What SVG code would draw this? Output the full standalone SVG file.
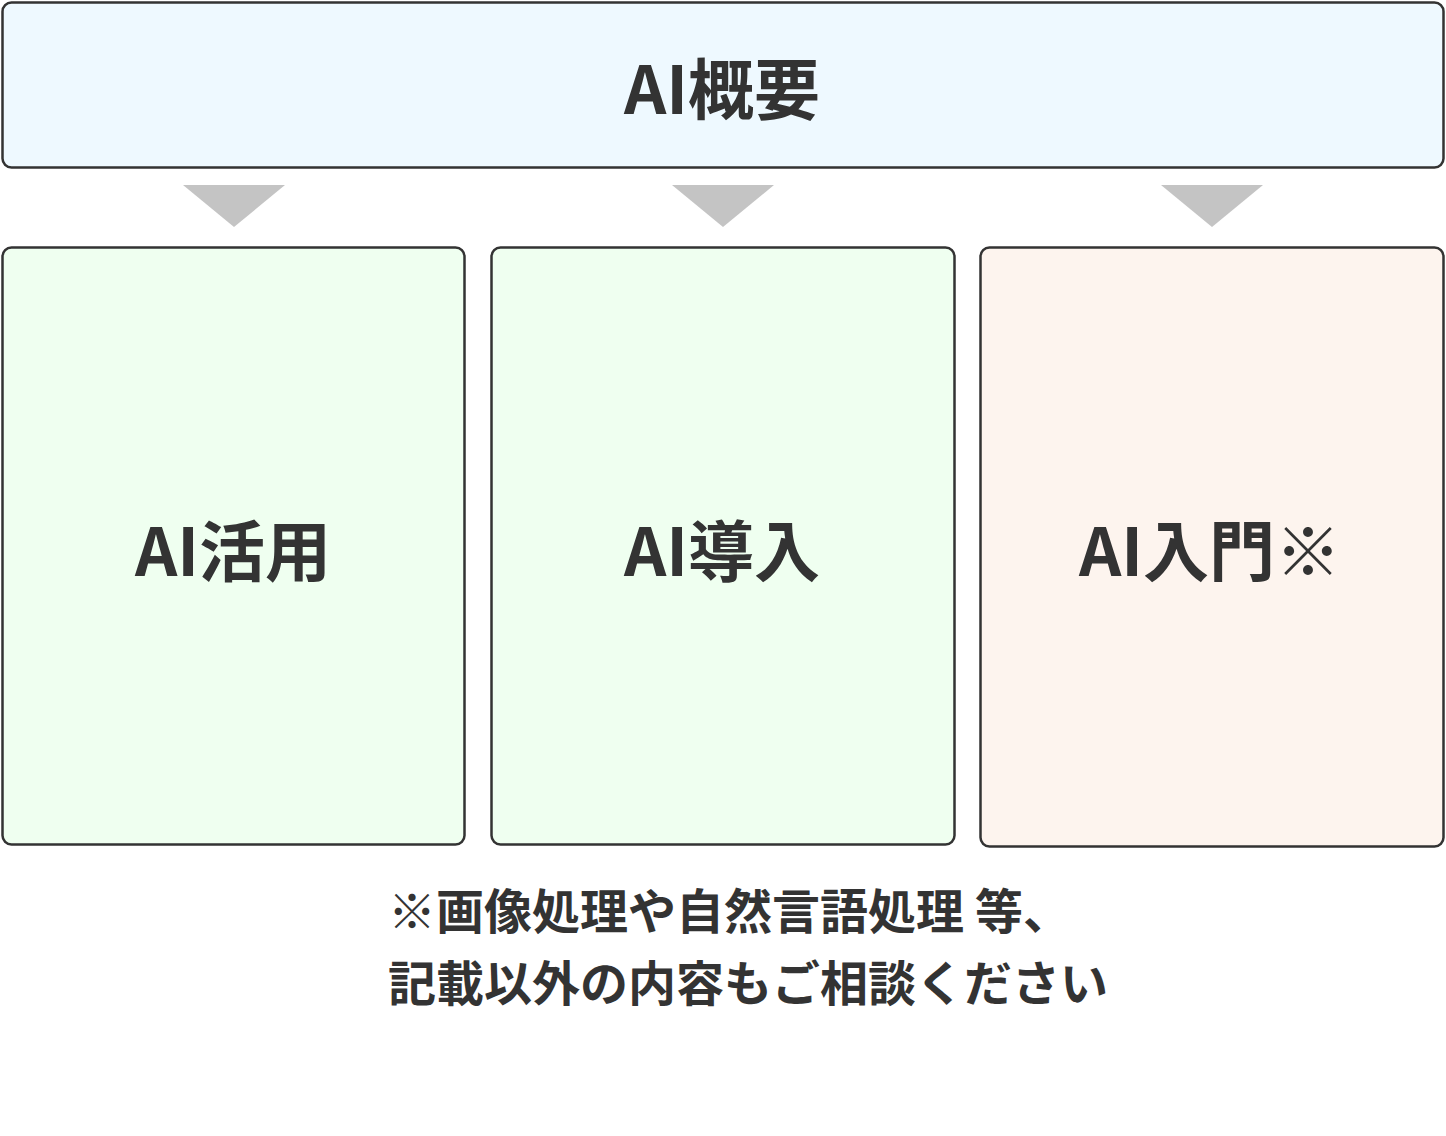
<svg xmlns="http://www.w3.org/2000/svg" width="1446" height="1136" viewBox="0 0 1446 1136">
  <defs>
    <style>
      .box { stroke: #333333; stroke-width: 2.5; }
      .top { fill: #eef9ff; }
      .green { fill: #effff0; }
      .peach { fill: #fdf4ee; }
      .label { font-family: "Noto Sans CJK JP", "Noto Sans", sans-serif; font-weight: 700; font-size: 66px; fill: #333333; text-anchor: middle; }
      .note { font-family: "Noto Sans CJK JP", "Noto Sans", sans-serif; font-weight: 700; font-size: 48px; fill: #333333; }
      .arrow { fill: #c4c4c4; }
    </style>
  </defs>
  <rect width="1446" height="1136" fill="#ffffff"/>
  <g id="node-overview">
    <rect class="box top" x="2.5" y="2.5" width="1441" height="165" rx="9"/>
    <text class="label" x="722" y="114">AI概要</text>
  </g>
  <g id="connectors">
    <polygon class="arrow" points="183,185 285,185 234,227"/>
    <polygon class="arrow" points="672,185 774,185 723,227"/>
    <polygon class="arrow" points="1161,185 1263,185 1212,227"/>
  </g>
  <g id="node-katsuyo">
    <rect class="box green" x="2.5" y="247.5" width="462" height="597" rx="9"/>
    <text class="label" x="233" y="576">AI活用</text>
  </g>
  <g id="node-donyu">
    <rect class="box green" x="491.5" y="247.5" width="463" height="597" rx="9"/>
    <text class="label" x="722" y="576">AI導入</text>
  </g>
  <g id="node-nyumon">
    <rect class="box peach" x="980.5" y="247.5" width="463" height="599" rx="9"/>
    <text class="label" x="1210" y="576">AI入門※</text>
  </g>
  <g id="note">
    <text class="note" x="388" y="929">※画像処理や自然言語処理 等、</text>
    <text class="note" x="388" y="1001">記載以外の内容もご相談ください</text>
  </g>
</svg>
